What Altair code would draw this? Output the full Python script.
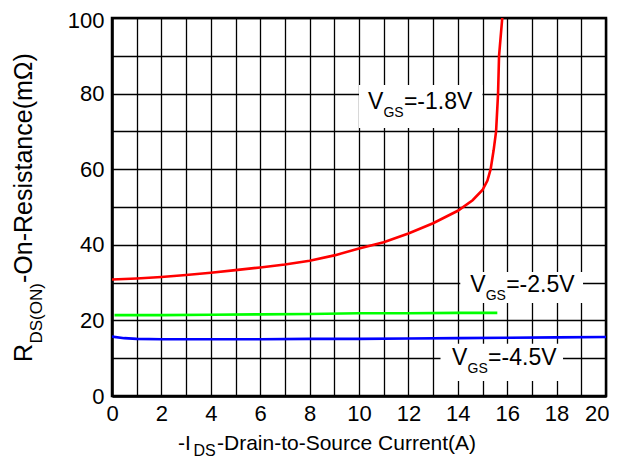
import altair as alt
import pandas as pd

# ---- data ----
red_x = [0, 1, 2, 3, 4, 5, 6, 7, 8, 9, 10, 11, 12, 13, 14, 14.6, 15.0, 15.2, 15.33, 15.45, 15.55, 15.63, 15.67, 15.8]
red_y = [30.8, 31.1, 31.5, 32.0, 32.6, 33.3, 34.0, 34.8, 35.8, 37.2, 39.0, 40.7, 43.0, 45.7, 49.0, 51.8, 54.5, 57.0, 60, 65, 70, 80, 90, 100]

green_x = [0.1, 1, 2, 4, 6, 8, 10, 12, 14, 15.6]
green_y = [21.4, 21.4, 21.4, 21.5, 21.6, 21.7, 21.9, 21.9, 22.0, 22.0]

blue_x = [0, 0.5, 1, 2, 4, 6, 8, 10, 12, 14, 16, 18, 20]
blue_y = [15.7, 15.3, 15.1, 15.0, 15.0, 15.0, 15.1, 15.1, 15.2, 15.3, 15.4, 15.5, 15.6]

series_names = ["VGS=-1.8V", "VGS=-2.5V", "VGS=-4.5V"]
series_colors = ["#FF0000", "#00FF00", "#0000FF"]
series_widths = [2.6, 2.6, 3.2]

# annotation labels (V + subscript GS + rest)
ann_rest = ["=-1.8V", "=-2.5V", "=-4.5V"]
ann_x = [10.36, 14.5, 13.77]
ann_y = [75.9, 27.6, 8.2]
box_x1 = [10.0, 14.1, 13.3]
box_x2 = [15.0, 19.07, 18.26]
box_y1 = [70.9, 24.6, 4.0]
box_y2 = [82.3, 32.8, 13.8]

x_ticks = list(range(0, 21))
y_ticks = list(range(0, 101, 10))

FONT = "Liberation Sans"

rows = []
for name, xs, ys in zip(series_names, [red_x, green_x, blue_x], [red_y, green_y, blue_y]):
    for i, (a, b) in enumerate(zip(xs, ys)):
        rows.append({"series": name, "x": a, "y": b, "order": i})
df = pd.DataFrame(rows)

ann = pd.DataFrame({
    "rest": ann_rest, "ax": ann_x, "ay": ann_y,
    "bx1": box_x1, "bx2": box_x2, "by1": box_y1, "by2": box_y2,
})

W, H = 494, 378
xscale = alt.Scale(domain=[0, 20], nice=False, zero=False)
yscale = alt.Scale(domain=[0, 100], nice=False, zero=False)

x_axis = alt.Axis(values=x_ticks, labelExpr="datum.value % 2 == 0 ? datum.label : ''",
                  grid=True, gridColor="#000000", gridWidth=1.3, gridOpacity=1,
                  ticks=False, domainColor="#000000", domainWidth=2.5,
                  labelFont=FONT, labelFontSize=22, labelColor="#000000",
                  labelPadding=7, labelFlush=False, labelOverlap=False,
                  labelAlign=alt.ConditionalAxisLabelAlign(
                      condition={"test": "datum.value == 20", "value": "right"}, value="center"),
                  labelOffset=alt.ConditionalAxisNumber(
                      condition={"test": "datum.value == 20", "value": 3}, value=0))
y_axis = alt.Axis(values=y_ticks, labelExpr="datum.value % 20 == 0 ? datum.label : ''",
                  grid=True, gridColor="#000000", gridWidth=1.3, gridOpacity=1,
                  ticks=False, domainColor="#000000", domainWidth=2.5,
                  labelFont=FONT, labelFontSize=22, labelColor="#000000",
                  labelPadding=8, labelFlush=False, labelOverlap=False,
                  labelOffset=alt.ConditionalAxisNumber(
                      condition={"test": "datum.value == 100", "value": 2}, value=0))

lines = alt.Chart(df).mark_line(clip=True).encode(
    x=alt.X("x:Q", scale=xscale, axis=x_axis, title=None),
    y=alt.Y("y:Q", scale=yscale, axis=y_axis, title=None),
    color=alt.Color("series:N", scale=alt.Scale(domain=series_names, range=series_colors), legend=None),
    strokeWidth=alt.StrokeWidth("series:N", scale=alt.Scale(domain=series_names, range=series_widths), legend=None),
    order="order:Q",
)

boxes = alt.Chart(ann).mark_rect(fill="white").encode(
    x=alt.X("bx1:Q", scale=xscale, axis=x_axis, title=None), x2="bx2:Q",
    y=alt.Y("by1:Q", scale=yscale, axis=y_axis, title=None), y2="by2:Q",
)

enc = dict(x=alt.X("ax:Q", scale=xscale, axis=x_axis, title=None),
           y=alt.Y("ay:Q", scale=yscale, axis=y_axis, title=None))
tV = alt.Chart(ann).mark_text(text="V", font=FONT, fontSize=23, align="left",
                               baseline="alphabetic", color="black").encode(**enc)
tGS = alt.Chart(ann).mark_text(text="GS", font=FONT, fontSize=14, align="left",
                                baseline="alphabetic", color="black", dx=15.5, dy=8).encode(**enc)
tRest = alt.Chart(ann).mark_text(font=FONT, fontSize=23, align="left",
                                  baseline="alphabetic", color="black", dx=36).encode(text="rest:N", **enc)

# axis titles with subscripts (pixel placed, relative to plot area)
one = ann.head(1)
yt1 = alt.Chart(one).mark_text(text="R", font=FONT, fontSize=25, angle=270, align="left",
                               baseline="alphabetic", color="black").encode(
    x=alt.value(-80), y=alt.value(344))
yt2 = alt.Chart(one).mark_text(text="DS(ON)", font=FONT, fontSize=17, angle=270, align="left",
                               baseline="alphabetic", color="black", dx=18.5, dy=10).encode(
    x=alt.value(-80), y=alt.value(344))
yt3 = alt.Chart(one).mark_text(text="-On-Resistance(m\u03a9)", font=FONT, fontSize=25, angle=270,
                               align="left", baseline="alphabetic", color="black", dx=79).encode(
    x=alt.value(-80), y=alt.value(344))

xt1 = alt.Chart(one).mark_text(text="-I", font=FONT, fontSize=21, align="left",
                               baseline="alphabetic", color="black").encode(
    x=alt.value(66), y=alt.value(432))
xt2 = alt.Chart(one).mark_text(text="DS", font=FONT, fontSize=16, align="left",
                               baseline="alphabetic", color="black", dx=15.5, dy=6).encode(
    x=alt.value(66), y=alt.value(432))
xt3 = alt.Chart(one).mark_text(text="-Drain-to-Source Current(A)", font=FONT, fontSize=21,
                               align="left", baseline="alphabetic", color="black", dx=39).encode(
    x=alt.value(66), y=alt.value(432))

chart = alt.layer(lines, boxes, tV, tGS, tRest, yt1, yt2, yt3, xt1, xt2, xt3).properties(
    width=W, height=H,
    background="white",
    autosize=alt.AutoSizeParams(type="none"),
    padding={"left": 104, "top": 10, "right": 3, "bottom": 64},
).configure_view(stroke="#000000", strokeWidth=2.5)

chart.save("out.html", embed_options={"renderer": "svg", "actions": False})
